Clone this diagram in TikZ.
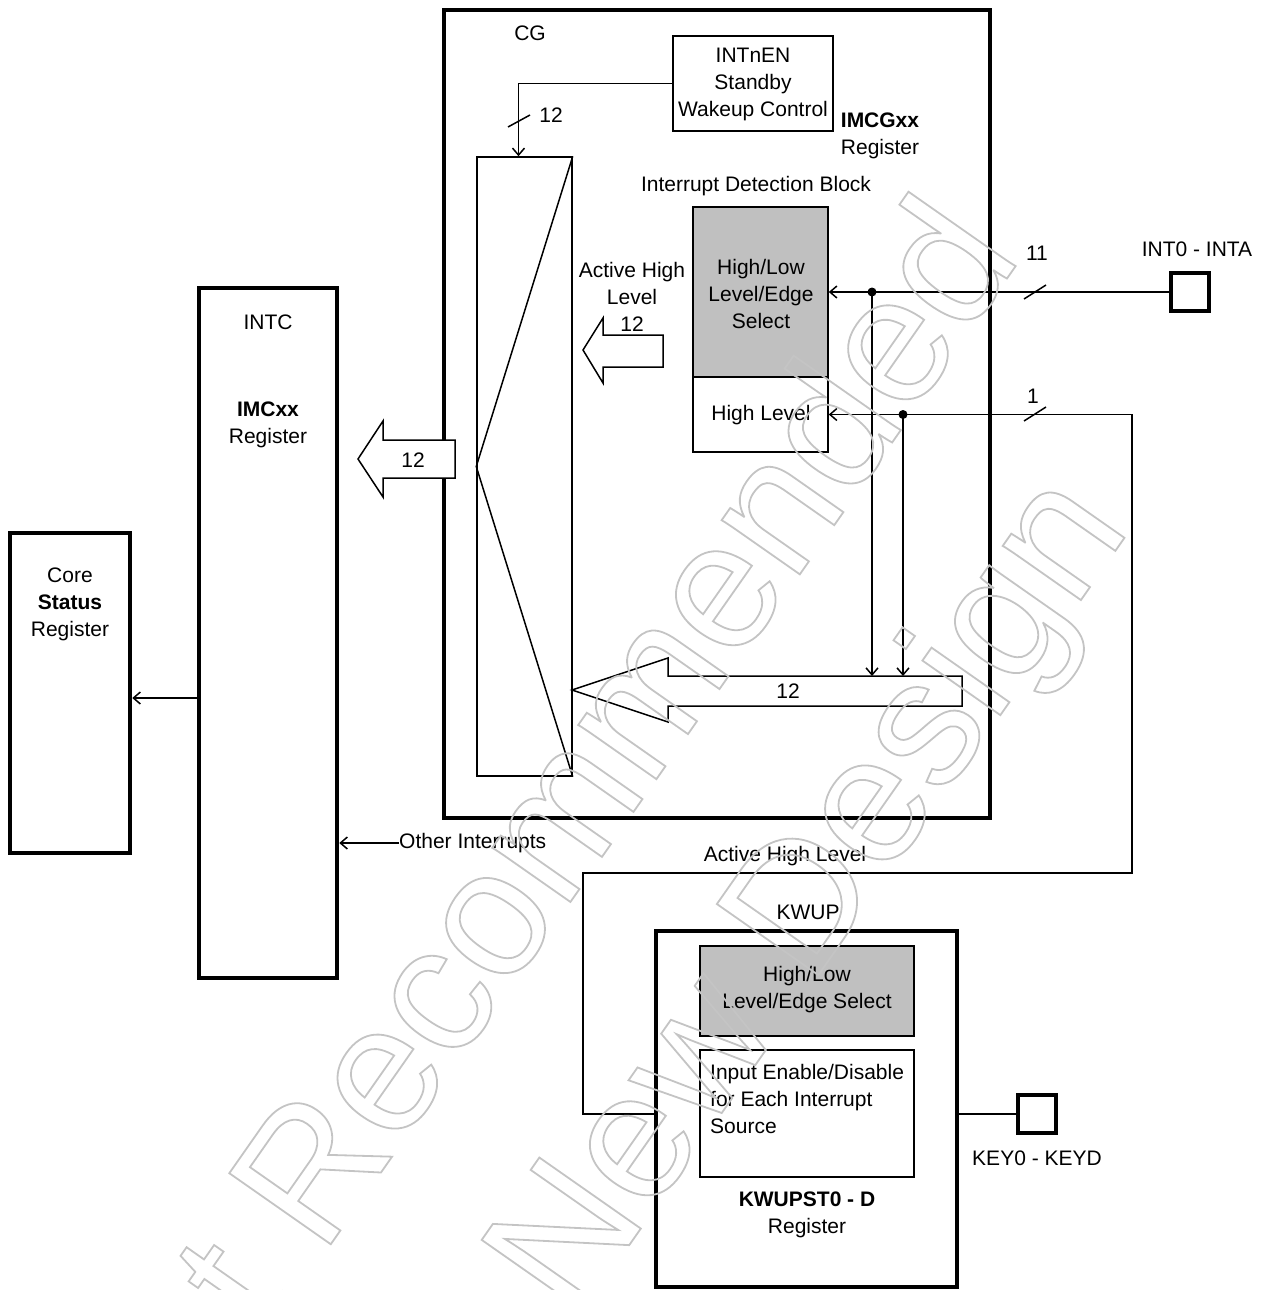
\documentclass[tikz,border=0pt]{standalone}
\usepackage{fontspec}
\setmainfont{Liberation Sans}
\usetikzlibrary{arrows.meta}
\definecolor{boxgrey}{RGB}{192,192,192}
\definecolor{wmgrey}{RGB}{196,196,196}
\newcommand{\outlinetext}[1]{\special{pdf:literal direct 1 Tr 1.8 w}#1\special{pdf:literal direct 0 Tr}}
\begin{document}
\begin{tikzpicture}[x=1pt, y=-1pt,
    thin_box/.style={draw, line width=1.5pt, inner sep=0pt},
    heavy_box/.style={draw, line width=4.5pt, inner sep=0pt},
    grey_box/.style={thin_box, fill=boxgrey},
    pin_box/.style={heavy_box, minimum width=38pt, minimum height=38pt},
    label_text/.style={font=\fontsize{21}{27}\selectfont, inner sep=0pt, align=center},
    sig_edge/.style={line width=1.5pt, -{Straight Barb[length=7pt,width=12pt]}},
    wire_edge/.style={line width=1.5pt},
    block_arrow/.style={line width=1.5pt, fill=white},
    junction/.style={circle, fill, inner sep=0pt, minimum size=9pt}
]
\useasboundingbox (0,0) rectangle (1262,1290);
% Bloc CG
\node[heavy_box, minimum width=546pt, minimum height=808pt] (cg) at (717,414) {};
\node[label_text] (cglbl) at (530,33) {CG};
\node[thin_box, minimum width=160pt, minimum height=95pt] (intnen) at (753,83.5) {};
\node[label_text] (intnentxt) at (753,84) {INTnEN\\Standby\\Wakeup Control};
\node[label_text] (imcg) at (880,136) {\textbf{IMCGxx}\\Register};
\node[label_text] (idb) at (756,186) {Interrupt Detection Block};
\node[grey_box, minimum width=135pt, minimum height=170pt] (hilo) at (760.5,292) {};
\node[label_text] (hilotxt) at (761,294) {High/Low\\Level/Edge\\Select};
\node[thin_box, minimum width=135pt, minimum height=75pt] (hilvl) at (760.5,414.5) {};
\node[label_text] (hilvltxt) at (761,415) {High Level};
% Multiplexeur
\node[thin_box, minimum width=95pt, minimum height=619pt] (mux) at (524.5,466.5) {};
\draw[wire_edge] (mux.north east) -- (mux.west) -- (mux.south east);
\draw[sig_edge] (intnen.west) -| ([xshift=-6pt]mux.north);
\draw[wire_edge] (508,127) -- (530,115);
\node[label_text] (n12a) at (551,115) {12};
% Fleches larges
\draw[block_arrow] (663,335) -- (603,335) -- (603,318) -- (583,350) -- (603,383) -- (603,367) -- (663,367) -- cycle;
\node[label_text] (ahl) at (632,297) {Active High\\Level\\12};
\draw[block_arrow] (455,440) -- (383,440) -- (383,421) -- (358,459) -- (383,497) -- (383,478) -- (455,478) -- cycle;
\node[label_text] (n12b) at (413,460) {12};
\draw[block_arrow] (962,676) -- (668,676) -- (668,658) -- (572,690) -- (668,722) -- (668,706) -- (962,706) -- cycle;
\node[label_text] (n12c) at (788,691) {12};
% Broches INT0 - INTA
\node[pin_box] (int0) at (1190,292) {};
\node[label_text] (int0txt) at (1197,249) {INT0 - INTA};
\node[junction] (j11) at (872,292) {};
\node[junction] (j1) at (903,414.5) {};
\draw[sig_edge] (int0.west) -- (int0.west -| hilo.east);
\draw[wire_edge] (1024,299) -- (1046,285);
\node[label_text] (n11) at (1037,253) {11};
\draw[sig_edge] (j11.center) -- (872,676);
\draw[sig_edge] (j1.center) -- (903,676);
% KWUP
\node[heavy_box, minimum width=301pt, minimum height=356pt] (kwup) at (806.5,1109) {};
\node[label_text] (kwuplbl) at (808,912) {KWUP};
\node[grey_box, minimum width=214pt, minimum height=90pt] (kwsel) at (807,991) {};
\node[label_text] (kwseltxt) at (807,990) {High/Low\\Level/Edge Select};
\node[thin_box, minimum width=214pt, minimum height=127pt] (kwen) at (807,1113.5) {};
\node[label_text, align=left, anchor=north west] (kwentxt) at (710,1064) {Input Enable/Disable\\for Each Interrupt\\Source};
\node[label_text] (kwreg) at (807,1215) {\textbf{KWUPST0 - D}\\Register};
\node[pin_box] (key0) at (1037,1114) {};
\node[label_text] (key0txt) at (1037,1158) {KEY0 - KEYD};
\draw[wire_edge] (key0.west -| kwup.east) -- (key0.west);
\draw[sig_edge] (key0.west -| kwup.west) -| (583,873) -| (1132,414.5) -- (hilvl.east);
\draw[wire_edge] (1024,421) -- (1046,407);
\node[label_text] (n1) at (1033,396) {1};
\node[label_text] (ahl2) at (785,856) {Active High Level};
% INTC et Core
\node[heavy_box, minimum width=138pt, minimum height=690pt] (intc) at (268,633) {};
\node[label_text] (intctxt) at (268,322) {INTC};
\node[label_text] (imctxt) at (268,425) {\textbf{IMCxx}\\Register};
\node[heavy_box, minimum width=120pt, minimum height=320pt] (core) at (70,693) {};
\node[label_text] (coretxt) at (70,604) {Core\\\textbf{Status}\\Register};
\draw[sig_edge] (intc.west |- 0,698) -- (core.east |- 0,698);
\node[label_text, anchor=west] (other) at (399,843) {Other Interrupts};
\draw[sig_edge] (other.west) -- (other.west -| intc.east);
% Filigrane
\node[font=\fontsize{180}{245}\selectfont, text=wmgrey, rotate=55, align=center, inner sep=0pt] (wm) at (640,935) {\outlinetext{Not Recommended\\for New Design}};
\end{tikzpicture}
\end{document}
